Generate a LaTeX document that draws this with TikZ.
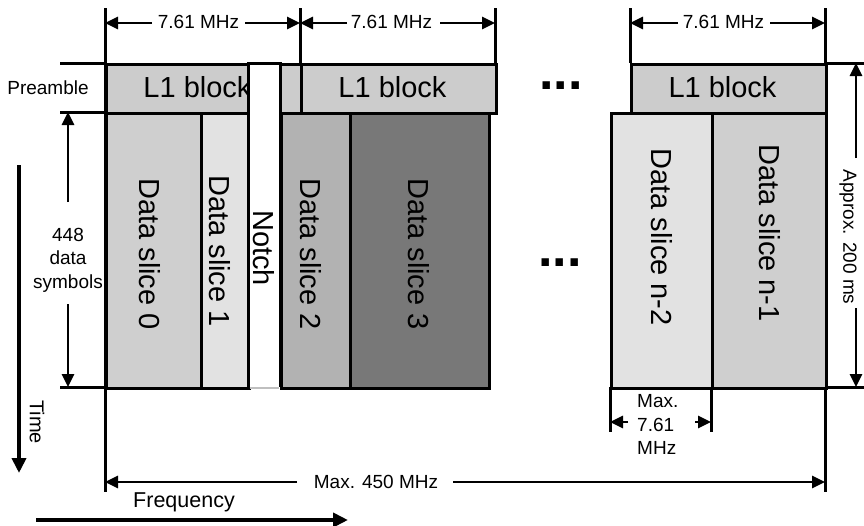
\documentclass[tikz,border=0pt]{standalone}
\usepackage{fontspec}
\setmainfont{Liberation Sans}
\usetikzlibrary{arrows.meta}
\definecolor{lone}{gray}{0.80}
\definecolor{dsa}{gray}{0.81}
\definecolor{dsb}{gray}{0.885}
\definecolor{dsc}{gray}{0.70}
\definecolor{dsd}{gray}{0.47}
\definecolor{notchbot}{gray}{0.75}
\begin{document}
\begin{tikzpicture}[x=1pt,y=-1pt,line cap=butt,
  every node/.style={inner sep=0pt},
  blk/.style={draw=black,line width=3pt,anchor=north west},
  big/.style={font=\fontsize{29}{33}\selectfont},
  sml/.style={font=\fontsize{19}{23.5}\selectfont},
  dotsty/.style={font=\fontsize{52}{52}\selectfont\bfseries,anchor=base},
  guide/.style={line width=3pt},
  dimone/.style={line width=2.7pt,-{Triangle[length=13pt,width=12pt]}},
  axis/.style={line width=4.5pt,-{Triangle[length=15pt,width=14pt]}}]
\useasboundingbox (0,0) rectangle (864,525);

% guide lines
\coordinate (v1t) at (105,8);  \coordinate (v1b) at (105,492);
\coordinate (v2t) at (300,8);  \coordinate (v2b) at (300,63);
\coordinate (v3t) at (495,8);  \coordinate (v3b) at (495,63);
\coordinate (v4t) at (630,8);  \coordinate (v4b) at (630,63);
\coordinate (v5t) at (825,8);  \coordinate (v5b) at (825,492);
\coordinate (h1l) at (60,63);  \coordinate (h1r) at (105,63);
\coordinate (h2l) at (60,112); \coordinate (h2r) at (105,112);
\coordinate (h3l) at (60,387); \coordinate (h3r) at (105,387);
\coordinate (h4l) at (825,63); \coordinate (h4r) at (864,63);
\coordinate (h5l) at (825,387); \coordinate (h5r) at (864,387);
\coordinate (v6t) at (610,387); \coordinate (v6b) at (610,432);
\coordinate (v7t) at (711,387); \coordinate (v7b) at (711,432);
\foreach \a/\b in {v1t/v1b,v2t/v2b,v3t/v3b,v4t/v4b,v5t/v5b,h1l/h1r,h2l/h2r,h3l/h3r,h4l/h4r,h5l/h5r,v6t/v6b,v7t/v7b}
  \draw[guide] (\a) -- (\b);

% preamble blocks
\node[blk,fill=lone,minimum width=195,minimum height=49] (l1a) at (105,63) {};
\node[blk,fill=lone,minimum width=195,minimum height=49] (l1b) at (300,63) {};
\node[blk,fill=lone,minimum width=195,minimum height=49] (l1c) at (630,63) {};
% data slices
\node[blk,fill=dsa,minimum width=95,minimum height=275] (ds0) at (105,112) {};
\node[blk,fill=dsb,minimum width=48,minimum height=275] (ds1) at (200,112) {};
\node[blk,fill=dsc,minimum width=69,minimum height=275] (ds2) at (280,112) {};
\node[blk,fill=dsd,minimum width=139,minimum height=275] (ds3) at (349,112) {};
\node[blk,fill=dsb,minimum width=101,minimum height=275] (dsn2) at (610,112) {};
\node[blk,fill=dsa,minimum width=114,minimum height=275] (dsn1) at (711,112) {};

% labels in blocks
\node[big,anchor=base] (t1a) at (197.5,97) {L1 block};
\node[big,anchor=base] (t1b) at (392.5,97) {L1 block};
\node[big,anchor=base] (t1c) at (722.5,97) {L1 block};
\node[big,rotate=-90] (tds0) at (150,254) {Data slice 0};
\node[big,rotate=-90] (tds1) at (220,251) {Data slice 1};
\node[big,rotate=-90] (tds2) at (310.5,254) {Data slice 2};
\node[big,rotate=-90] (tds3) at (419,254) {Data slice 3};
\node[big,rotate=-90] (tdsn2) at (662,237) {Data slice n-2};
\node[big,rotate=-90] (tdsn1) at (770,233) {Data slice n-1};

% notch
\node[fill=white,anchor=north west,minimum width=32,minimum height=324] (notch) at (248,63) {};
\draw[line width=3pt] (notch.south west) -- (notch.north west) -- (notch.north east) -- (notch.south east);
\draw[line width=2pt,notchbot] ([xshift=1.5pt,yshift=-1pt]notch.south west) -- ([xshift=-1.5pt,yshift=-1pt]notch.south east);
\node[big,rotate=-90] (tnotch) at (264,248) {Notch};

% ellipses
\node[dotsty] (dots1) at (561,89.5) {...};
\node[dotsty] (dots2) at (560,266.5) {...};

% side labels
\node[sml,anchor=base] (pre) at (48,94) {Preamble};

% top dimension arrows
\coordinate (a1l) at (105,23); \coordinate (a1lg) at (152,23);
\coordinate (a1r) at (300,23); \coordinate (a1rg) at (245,23);
\coordinate (a2l) at (300,23); \coordinate (a2lg) at (347,23);
\coordinate (a2r) at (495,23); \coordinate (a2rg) at (440,23);
\coordinate (a3l) at (630,23); \coordinate (a3lg) at (678,23);
\coordinate (a3r) at (825,23); \coordinate (a3rg) at (770,23);
\foreach \g/\e in {a1lg/a1l,a1rg/a1r,a2lg/a2l,a2rg/a2r,a3lg/a3l,a3rg/a3r}
  \draw[dimone] (\g) -- (\e);
\node[sml,anchor=base] (w1) at (198.5,28.5) {7.61 MHz};
\node[sml,anchor=base] (w2) at (391.5,28.5) {7.61 MHz};
\node[sml,anchor=base] (w3) at (723.5,28.5) {7.61 MHz};

% 448 data symbols
\coordinate (s1) at (68,112); \coordinate (s1g) at (68,202);
\coordinate (s2) at (68,387); \coordinate (s2g) at (68,304);
\draw[dimone] (s1g) -- (s1);
\draw[dimone] (s2g) -- (s2);
\node[sml,align=center] (sym) at (68,260) {448\\data\\symbols};

% approx 200 ms
\coordinate (r1) at (856,63);  \coordinate (r1g) at (856,158);
\coordinate (r2) at (856,387); \coordinate (r2g) at (856,308);
\draw[dimone] (r1g) -- (r1);
\draw[dimone] (r2g) -- (r2);
\node[sml,rotate=-90] (appr) at (848,237) {Approx. 200 ms};

% max 450 MHz
\coordinate (m1) at (105,482); \coordinate (m1g) at (297,482);
\coordinate (m2) at (825,482); \coordinate (m2g) at (453,482);
\draw[dimone] (m1g) -- (m1);
\draw[dimone] (m2g) -- (m2);
\node[sml,anchor=base] (max450) at (376,488) {Max. 450 MHz};

% max 7.61 MHz
\coordinate (n1) at (610,422); \coordinate (n1g) at (628,422);
\coordinate (n2) at (711,422); \coordinate (n2g) at (695,422);
\draw[dimone] (n1g) -- (n1);
\draw[dimone] (n2g) -- (n2);
\node[sml,align=left,anchor=west] (max761) at (637,424.5) {Max.\\7.61\\MHz};

% axes
\coordinate (t1) at (19,165); \coordinate (t2) at (19,473);
\draw[axis] (t1) -- (t2);
\node[font=\fontsize{20}{24}\selectfont,rotate=-90] (time) at (37,422) {Time};
\coordinate (f1) at (36,520); \coordinate (f2) at (348,520);
\draw[axis] (f1) -- (f2);
\node[font=\fontsize{21.5}{25}\selectfont,anchor=base] (freq) at (184,507) {Frequency};
\end{tikzpicture}
\end{document}
